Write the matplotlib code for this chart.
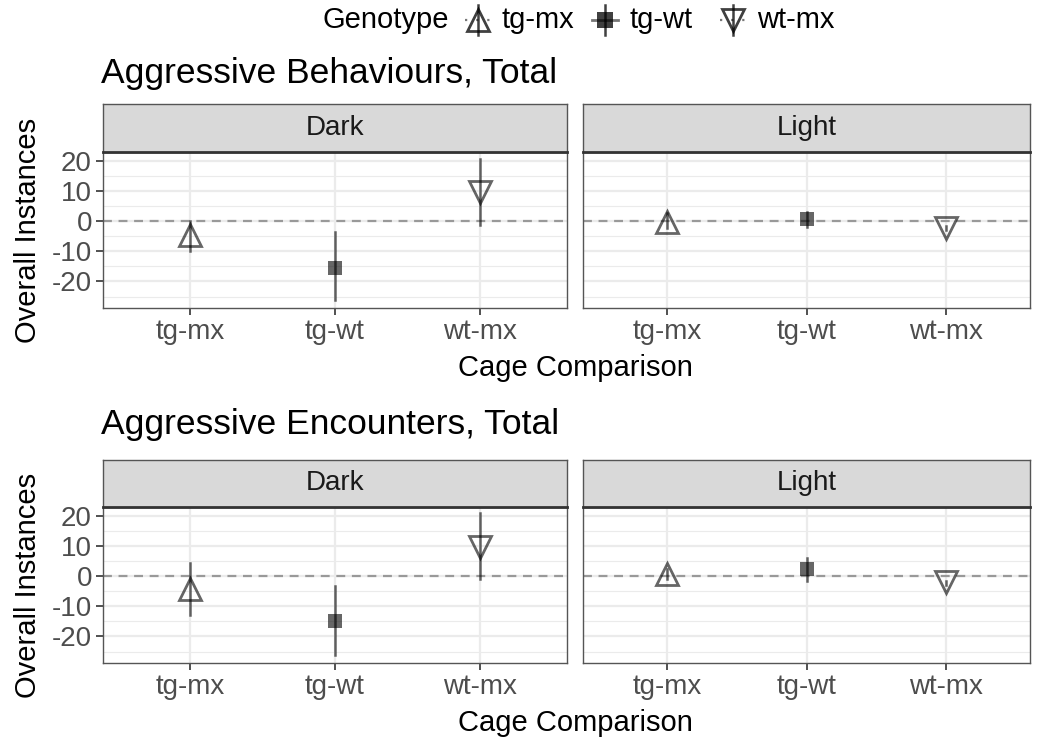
import matplotlib
matplotlib.use("Agg")
from matplotlib import pyplot as plt
from matplotlib.ticker import MultipleLocator
import numpy as np

plt.rcParams['font.family'] = ['Liberation Sans', 'DejaVu Sans']
plt.rcParams['axes.unicode_minus'] = False

comparisons = ['tg-mx', 'tg-wt', 'wt-mx']
lights = ['Dark', 'Light']
titles = ['Aggressive Behaviours, Total', 'Aggressive Encounters, Total']

# behaviours: point estimate, lower, upper per light condition
beh_mean = {'Dark': [-4.6, -15.4, 9.6], 'Light': [-0.4, 0.8, -2.3]}
beh_low = {'Dark': [-10.0, -26.0, -1.3], 'Light': [-2.3, -2.0, -3.0]}
beh_high = {'Dark': [0.0, -3.6, 20.6], 'Light': [2.6, 3.0, -1.5]}

# encounters
enc_mean = {'Dark': [-4.3, -15.0, 9.8], 'Light': [0.8, 2.3, -2.0]}
enc_low = {'Dark': [-13.0, -26.0, -1.0], 'Light': [-1.0, -1.6, -3.0]}
enc_high = {'Dark': [4.3, -3.3, 21.0], 'Light': [2.5, 5.9, -1.5]}

markers = {'tg-mx': '^', 'tg-wt': 's', 'wt-mx': 'v'}
filled = {'tg-mx': False, 'tg-wt': True, 'wt-mx': False}

W, H = 1037, 740
fig = plt.figure(figsize=(W / 100, H / 100), dpi=100)


def px(x0, y0, x1, y1):
    return [x0 / W, 1 - y1 / H, (x1 - x0) / W, (y1 - y0) / H]


rows = [
    (titles[0], beh_mean, beh_low, beh_high, 83, 104, 152, 308),
    (titles[1], enc_mean, enc_low, enc_high, 434, 460, 507, 663),
]
cols = [(103, 567), (583, 1030)]

for title, mean, low, high, tbase, stop, ptop, pbot in rows:
    for j, light in enumerate(lights):
        x0, x1 = cols[j]
        ax = fig.add_axes(px(x0, ptop, x1, pbot))
        ax.set_xlim(-0.6, 2.6)
        ax.set_ylim(-28.8, 23.0)
        ax.yaxis.set_major_locator(MultipleLocator(10))
        ax.yaxis.set_minor_locator(MultipleLocator(5))
        ax.grid(True, which='major', color='#EBEBEB', lw=1.6)
        ax.grid(True, which='minor', axis='y', color='#EBEBEB', lw=0.8)
        ax.set_axisbelow(True)
        ax.axhline(0, color='#999999', ls=(0, (4, 3)), lw=1.6, zorder=1)
        xs = np.arange(len(comparisons))
        for i, c in enumerate(comparisons):
            ax.plot([xs[i], xs[i]], [low[light][i], high[light][i]],
                    color='black', alpha=0.6, lw=1.8, zorder=2)
            ax.plot(xs[i], mean[light][i], marker=markers[c],
                    ms=10 if c == 'tg-wt' else 16,
                    mfc=(0, 0, 0, 0.6) if filled[c] else 'none',
                    mec=(0, 0, 0, 0.6), mew=2 if not filled[c] else 0,
                    ls='none', zorder=3)
        ax.set_xticks(xs)
        ax.set_xticklabels(comparisons)
        for s in ax.spines.values():
            s.set_color('#555555')
            s.set_linewidth(1.0)
        ax.tick_params(axis='both', which='major', colors='#333333', labelcolor='#4D4D4D',
                       labelsize=20, length=5, width=1.2, pad=3)
        ax.tick_params(axis='y', which='minor', length=0)
        if j == 0:
            ax.set_yticks([-20, -10, 0, 10, 20])
        else:
            ax.tick_params(axis='y', which='both', left=False, labelleft=False)
        # facet strip
        sax = fig.add_axes(px(x0, stop, x1, ptop))
        sax.set_xticks([])
        sax.set_yticks([])
        sax.set_facecolor('#D9D9D9')
        for s in sax.spines.values():
            s.set_color('#555555')
            s.set_linewidth(1.0)
        sax.spines['bottom'].set_linewidth(2.0)
        sax.spines['bottom'].set_color('#333333')
        sax.text(0.5, 0.5, light, ha='center', va='center', fontsize=20, color='#1A1A1A',
                 transform=sax.transAxes)
    fig.text(101 / W, 1 - tbase / H, title, fontsize=25.5, ha='left', va='baseline')
    fig.text(575 / W, 1 - (pbot + 60) / H, 'Cage Comparison', fontsize=21,
             ha='center', va='center')
    fig.text(28 / W, 1 - (ptop + pbot) / 2 / H, 'Overall Instances', fontsize=21,
             rotation=90, ha='center', va='center')

# legend at the top
lax = fig.add_axes([0, 0, 1, 1], facecolor='none')
lax.set_xlim(0, W)
lax.set_ylim(H, 0)
lax.axis('off')
lax.text(323, 20, 'Genotype', fontsize=21, va='center', ha='left')
key_x = [478, 605, 733]
for kx, c in zip(key_x, comparisons):
    if c == 'tg-wt':
        lax.plot([kx - 13, kx + 13], [20, 20], color='#777777', lw=2.0)
    else:
        lax.plot([kx - 13, kx + 13], [20, 20], color='#777777', ls=(0, (1, 4)), lw=1.6)
    lax.plot([kx, kx], [5, 35], color='black', lw=1.8, alpha=0.75)
    lax.plot(kx, 20, marker=markers[c], ms=11 if c == 'tg-wt' else 16,
             mfc='black' if filled[c] else 'none', mec='black',
             mew=2 if not filled[c] else 0, alpha=0.75, ls='none')
    lax.text(kx + 24, 20, c, fontsize=21, va='center', ha='left')

fig.savefig('out.png', dpi=100)
